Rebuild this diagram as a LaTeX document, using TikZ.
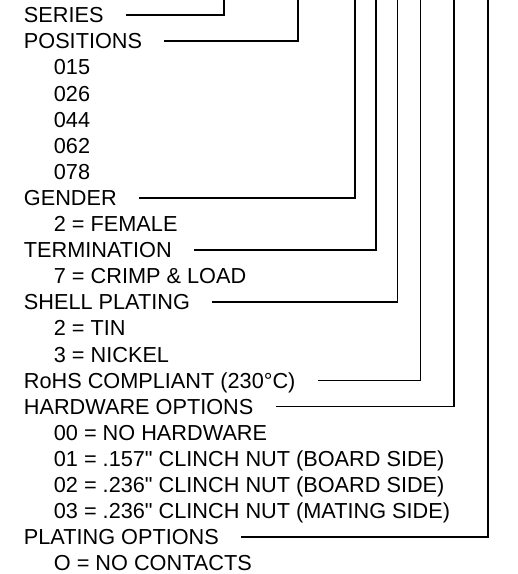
\documentclass[tikz,border=0pt]{standalone}
\usepackage{fontspec}
\setmainfont{Liberation Sans}[Ligatures=TeXOff]
\usetikzlibrary{positioning}

\begin{document}
\begin{tikzpicture}[x=0.5pt,y=-0.5pt,line width=0.9pt]
\tikzstyle{every node}+=[inner sep=0pt,anchor=west,text height=7.7pt,text depth=0pt,font=\fontsize{10.85}{12}\selectfont]
\useasboundingbox (0,0) rectangle (518,574);
% headings and their options
\node (series) at (23,15) {SERIES};
\node (positions) at (23,41.1) {POSITIONS};
\node (p015) at (53,67.2) {015};
\node (p026) at (53,93.3) {026};
\node (p044) at (53,119.4) {044};
\node (p062) at (53,145.5) {062};
\node (p078) at (53,171.6) {078};
\node (gender) at (23,197.7) {GENDER};
\node (female) at (53,223.8) {2 = FEMALE};
\node (termination) at (23,249.9) {TERMINATION};
\node (crimp) at (53,276) {7 = CRIMP \& LOAD};
\node (shell) at (23,302.1) {SHELL PLATING};
\node (tin) at (53,328.2) {2 = TIN};
\node (nickel) at (53,354.3) {3 = NICKEL};
\node (rohs) at (23,380.4) {RoHS COMPLIANT (230°C)};
\node (hardware) at (23,406.5) {HARDWARE OPTIONS};
\node (hw00) at (53,432.6) {00 = NO HARDWARE};
\node (hw01) at (53,458.7) {01 = .157" CLINCH NUT (BOARD SIDE)};
\node (hw02) at (53,484.8) {02 = .236" CLINCH NUT (BOARD SIDE)};
\node (hw03) at (53,510.9) {03 = .236" CLINCH NUT (MATING SIDE)};
\node (plating) at (23,537) {PLATING OPTIONS};
\node (nocontacts) at (53,563.1) {O = NO CONTACTS};
% leader ends at the top edge
\coordinate (topseries) at (224,0);
\coordinate (toppositions) at (298,0);
\coordinate (topgender) at (355,0);
\coordinate (toptermination) at (376,0);
\coordinate (topshell) at (397.5,0);
\coordinate (toprohs) at (420.5,0);
\coordinate (tophardware) at (454,0);
\coordinate (topplating) at (488,0);
% leaders
\draw ([xshift=10.75pt]series.east) -| (topseries);
\draw ([xshift=10.75pt]positions.east) -| (toppositions);
\draw ([xshift=10.75pt]gender.east) -| (topgender);
\draw ([xshift=10.75pt]termination.east) -| (toptermination);
\draw ([xshift=10.75pt]shell.east) -| (topshell);
\draw ([xshift=10.75pt]rohs.east) -| (toprohs);
\draw ([xshift=10.75pt]hardware.east) -| (tophardware);
\draw ([xshift=10.75pt]plating.east) -| (topplating);
\end{tikzpicture}
\end{document}
